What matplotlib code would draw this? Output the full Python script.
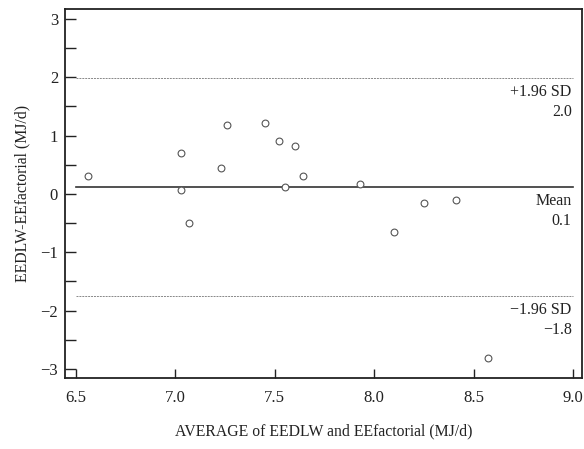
import matplotlib
matplotlib.use("Agg")
import matplotlib.pyplot as plt
from matplotlib.ticker import MultipleLocator

# average of the two methods (MJ/d) and their difference
avg_ee = [6.56, 7.03, 7.03, 7.07, 7.23, 7.26, 7.45, 7.52,
          7.55, 7.60, 7.64, 7.93, 8.10, 8.25, 8.41, 8.57]
diff_ee = [0.30, 0.70, 0.06, -0.49, 0.45, 1.19, 1.21, 0.90,
           0.12, 0.83, 0.30, 0.17, -0.66, -0.16, -0.11, -2.82]

mean_diff = 0.12
upper_loa = 1.99
lower_loa = -1.75
line_labels = [("+1.96 SD", "2.0", upper_loa),
               ("Mean", "0.1", mean_diff),
               ("\u22121.96 SD", "\u22121.8", lower_loa)]

plt.rcParams['font.family'] = ['Liberation Serif', 'DejaVu Serif']
plt.rcParams['axes.unicode_minus'] = True

fig = plt.figure(figsize=(5.84, 4.49), dpi=100)
ax = fig.add_axes([65 / 584, 71 / 449, 517 / 584, 369 / 449])

ax.scatter(avg_ee, diff_ee, s=24, facecolors='white', edgecolors='#555555',
           linewidths=0.8, zorder=3)

ax.plot([6.5, 9.0], [mean_diff, mean_diff], color='#333333', lw=1.2, zorder=2)
for y in (upper_loa, lower_loa):
    ax.plot([6.5, 9.0], [y, y], color='#888888', lw=0.7, ls=(0, (2, 1)), zorder=2)

for name, val, y in line_labels:
    ax.annotate(name, xy=(9.0, y), xytext=(-1, -10), textcoords='offset points',
                ha='right', va='center', fontsize=11.5, color='#222222')
    ax.annotate(val, xy=(9.0, y), xytext=(-1, -24.5), textcoords='offset points',
                ha='right', va='center', fontsize=11.5, color='#222222')

ax.set_xlim(6.445, 9.045)
ax.set_ylim(-3.155, 3.17)
ax.set_xticks([6.5, 7.0, 7.5, 8.0, 8.5, 9.0])
ax.set_xticklabels(["6.5", "7.0", "7.5", "8.0", "8.5", "9.0"])
ax.set_yticks([-3, -2, -1, 0, 1, 2, 3])
ax.set_yticklabels(["\u22123", "\u22122", "\u22121", "0", "1", "2", "3"])
ax.yaxis.set_minor_locator(MultipleLocator(0.5))

ax.tick_params(axis='both', which='both', direction='in', labelsize=12,
               color='#222222', labelcolor='#222222', width=1.0)
ax.tick_params(axis='y', which='both', length=8, pad=5)
ax.tick_params(axis='x', which='major', length=6.5, pad=9)
for s in ax.spines.values():
    s.set_linewidth(1.3)
    s.set_color('#222222')

ax.set_xlabel("AVERAGE of EEDLW and EEfactorial (MJ/d)", fontsize=11.3,
              color='#222222', labelpad=12)
ax.set_ylabel("EEDLW-EEfactorial (MJ/d)", fontsize=11.3, color='#222222',
              labelpad=7)

fig.savefig("out.png", dpi=100)
